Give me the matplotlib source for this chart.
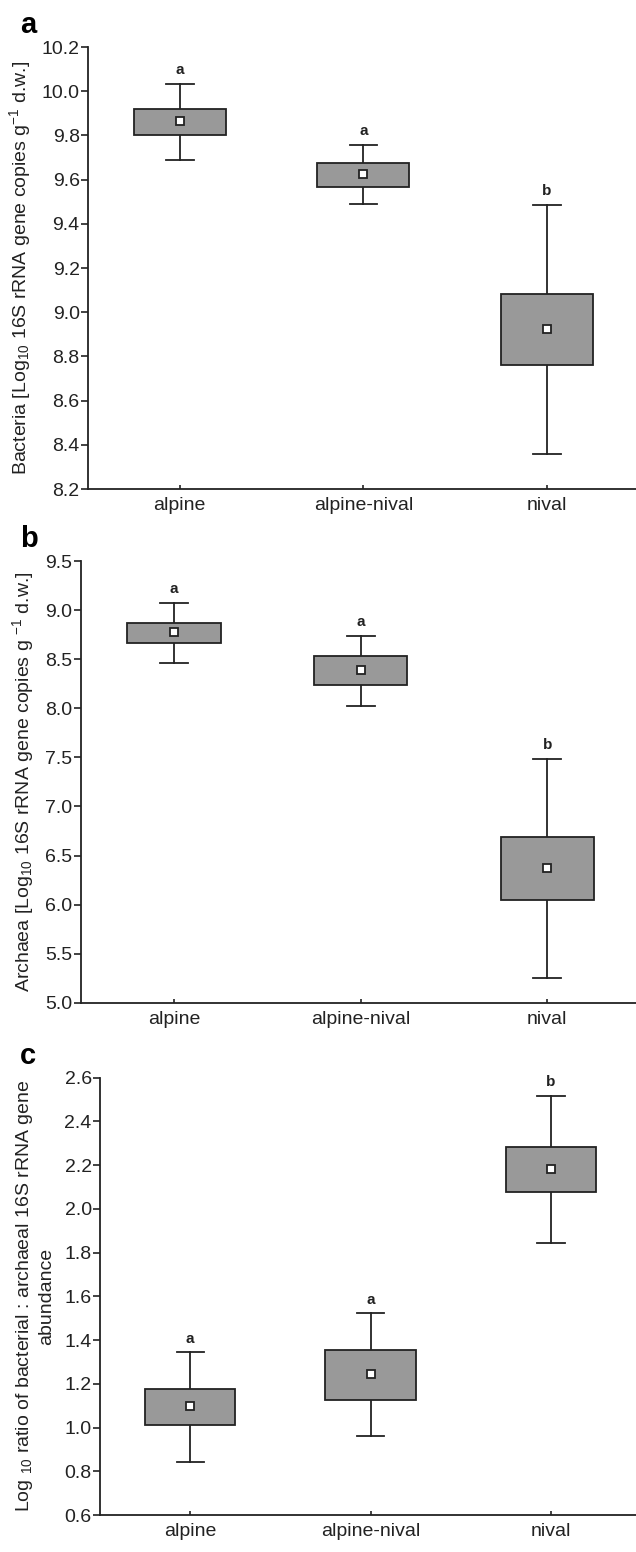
import matplotlib
matplotlib.use("Agg")
import matplotlib.pyplot as plt

plt.rcParams['font.family'] = ['Liberation Sans', 'DejaVu Sans']
plt.rcParams['mathtext.default'] = 'regular'

# categories
zones = ["alpine", "alpine-nival", "nival"]

# panel a: bacteria (whisker low, box low, mean, box high, whisker high)
bac_wlo = [9.689, 9.488, 8.357]
bac_blo = [9.803, 9.568, 8.759]
bac_mean = [9.864, 9.627, 8.924]
bac_bhi = [9.919, 9.676, 9.084]
bac_whi = [10.033, 9.757, 9.485]
bac_letters = ["a", "a", "b"]

# panel b: archaea
arc_wlo = [8.464, 8.020, 5.251]
arc_blo = [8.668, 8.234, 6.046]
arc_mean = [8.773, 8.389, 6.375]
arc_bhi = [8.865, 8.529, 6.688]
arc_whi = [9.069, 8.739, 7.486]
arc_letters = ["a", "a", "b"]

# panel c: ratio
rat_wlo = [0.844, 0.963, 1.843]
rat_blo = [1.012, 1.128, 2.079]
rat_mean = [1.098, 1.245, 2.184]
rat_bhi = [1.176, 1.356, 2.283]
rat_whi = [1.344, 1.523, 2.518]
rat_letters = ["a", "a", "b"]

fig = plt.figure(figsize=(6.36, 15.52), dpi=100)

dark = '#222222'
boxc = '#999999'


def draw_panel(rect, wlo, blo, mean, bhi, whi, letters, ylim, yticks,
               ylabel, tag, lab_off, ylabel_x):
    ax = fig.add_axes(rect)
    pos = [1, 2, 3]
    for i in range(3):
        x = pos[i]
        ax.plot([x, x], [wlo[i], blo[i]], color=dark, lw=1.3, zorder=2)
        ax.plot([x, x], [bhi[i], whi[i]], color=dark, lw=1.3, zorder=2)
        ax.plot([x - 0.075, x + 0.075], [wlo[i], wlo[i]], color=dark, lw=1.3)
        ax.plot([x - 0.075, x + 0.075], [whi[i], whi[i]], color=dark, lw=1.3)
        ax.bar(x, bhi[i] - blo[i], bottom=blo[i], width=0.5, color=boxc,
               edgecolor=dark, linewidth=1.3, zorder=3)
        ax.plot(x, mean[i], 's', ms=5.5, mfc='white', mec=dark, mew=1.3,
                zorder=4)
        ax.text(x, whi[i] + lab_off, letters[i], ha='center', va='bottom',
                fontsize=11, fontweight='bold', color=dark)
    ax.set_xlim(0.5, 3.5)
    ax.set_ylim(*ylim)
    ax.set_yticks(yticks)
    ax.set_yticklabels(['{:.1f}'.format(v) for v in yticks])
    ax.set_xticks(pos)
    ax.set_xticklabels(zones)
    for s in ['top', 'right']:
        ax.spines[s].set_visible(False)
    for s in ['left', 'bottom']:
        ax.spines[s].set_linewidth(1.3)
        ax.spines[s].set_color(dark)
    ax.tick_params(axis='y', direction='out', length=5, width=1.2,
                   labelsize=14, pad=1, colors=dark)
    ax.tick_params(axis='x', direction='in', length=3, width=1.2,
                   labelsize=14, pad=6, colors=dark)
    ax.set_ylabel(ylabel, fontsize=14, color=dark)
    ax.yaxis.set_label_coords(ylabel_x, 0.5)
    fig.text(0.032, rect[1] + rect[3] + 0.009, tag, fontsize=21,
             fontweight='bold', color='black')
    return ax


draw_panel([0.1384, 0.6849, 0.8656, 0.2848], bac_wlo, bac_blo, bac_mean,
           bac_bhi, bac_whi, bac_letters, (8.2, 10.2),
           [8.2, 8.4, 8.6, 8.8, 9.0, 9.2, 9.4, 9.6, 9.8, 10.0, 10.2],
           'Bacteria [Log$_{10}$ 16S rRNA gene copies g$^{-1}$ d.w.]', 'a',
           0.03, -0.100)

draw_panel([0.1269, 0.3539, 0.8805, 0.2846], arc_wlo, arc_blo, arc_mean,
           arc_bhi, arc_whi, arc_letters, (5.0, 9.5),
           [5.0, 5.5, 6.0, 6.5, 7.0, 7.5, 8.0, 8.5, 9.0, 9.5],
           'Archaea [Log$_{10}$ 16S rRNA gene copies g $^{-1}$ d.w.]', 'b',
           0.07, -0.080)

draw_panel([0.1572, 0.0238, 0.851, 0.2818], rat_wlo, rat_blo, rat_mean,
           rat_bhi, rat_whi, rat_letters, (0.6, 2.6),
           [0.6, 0.8, 1.0, 1.2, 1.4, 1.6, 1.8, 2.0, 2.2, 2.4, 2.6],
           'Log $_{10}$ ratio of bacterial : archaeal 16S rRNA gene\nabundance',
           'c', 0.03, -0.083)

fig.savefig('out.png', dpi=100)
